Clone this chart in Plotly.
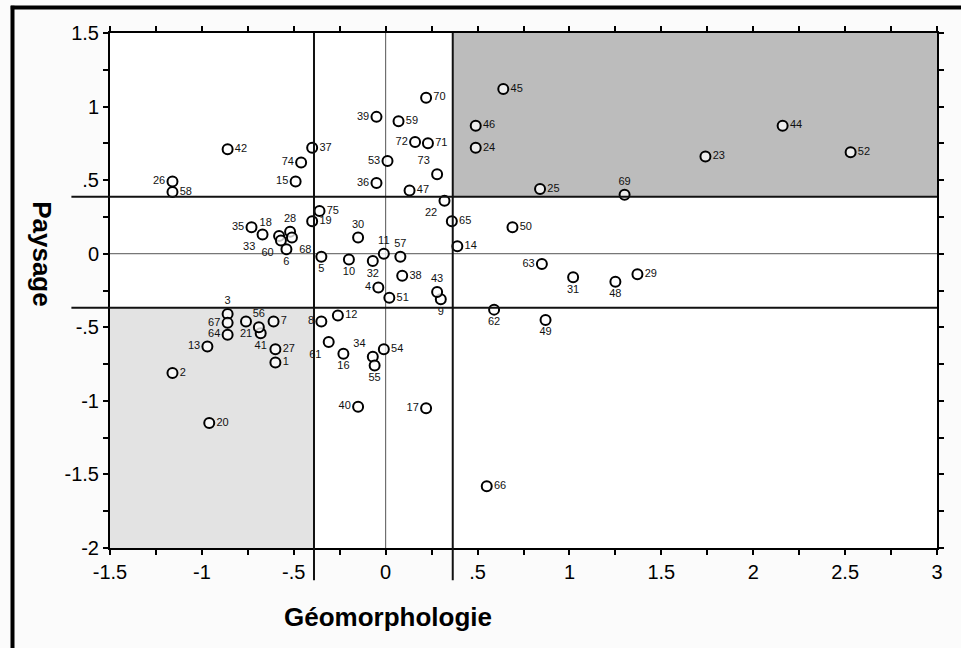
import plotly.graph_objects as go

# ---- data ----
ids = list(range(1, 76))
geo = [-0.60, -1.16, -0.86, -0.04, -0.35, -0.54, -0.61, -0.35, 0.30, -0.20,
       -0.01, -0.26, -0.97, 0.39, -0.49, -0.23, 0.22, -0.58, -0.40, -0.96,
       -0.76, 0.32, 1.74, 0.49, 0.84, -1.16, -0.60, -0.52, 1.37, -0.15,
       1.02, -0.07, -0.67, -0.07, -0.73, -0.05, -0.40, 0.09, -0.05, -0.15,
       -0.68, -0.86, 0.28, 2.16, 0.64, 0.49, 0.13, 1.25, 0.87, 0.69,
       0.02, 2.53, 0.01, -0.01, -0.06, -0.69, 0.08, -1.16, 0.07, -0.57,
       -0.31, 0.59, 0.85, -0.86, 0.36, 0.55, -0.86, -0.51, 1.30, 0.22,
       0.23, 0.16, 0.28, -0.46, -0.36]
pay = [-0.74, -0.81, -0.41, -0.23, -0.02, 0.03, -0.46, -0.46, -0.31, -0.04,
       0.00, -0.42, -0.63, 0.05, 0.49, -0.68, -1.05, 0.12, 0.22, -1.15,
       -0.46, 0.36, 0.66, 0.72, 0.44, 0.49, -0.65, 0.15, -0.14, 0.11,
       -0.16, -0.05, 0.13, -0.70, 0.18, 0.48, 0.72, -0.15, 0.93, -1.04,
       -0.54, 0.71, -0.26, 0.87, 1.12, 0.87, 0.43, -0.19, -0.45, 0.18,
       -0.30, 0.69, 0.63, -0.65, -0.76, -0.50, -0.02, 0.42, 0.90, 0.09,
       -0.60, -0.38, -0.07, -0.55, 0.22, -1.58, -0.47, 0.11, 0.40, 1.06,
       0.75, 0.76, 0.54, 0.62, 0.29]
label_pos = ["middle right", "middle right", "top center", "middle left", "bottom center",
             "bottom center", "middle right", "middle left", "bottom center", "bottom center",
             "top center", "middle right", "middle left", "middle right", "middle left",
             "bottom center", "middle left", "top left", "middle right", "middle right",
             "bottom center", "bottom left", "middle right", "middle right", "middle right",
             "middle left", "middle right", "top center", "middle right", "top center",
             "bottom center", "bottom center", "bottom left", "top left", "middle left",
             "middle left", "middle right", "middle right", "middle left", "middle left",
             "bottom center", "middle right", "top center", "middle right", "middle right",
             "middle right", "middle right", "bottom center", "bottom center", "middle right",
             "middle right", "middle right", "middle left", "middle right", "bottom center",
             "top center", "top center", "middle right", "middle right", "bottom left",
             "bottom left", "bottom center", "middle left", "middle left", "middle right",
             "middle right", "middle left", "bottom right", "top center", "middle right",
             "middle right", "middle left", "top left", "middle left", "middle right"]

x_range = [-1.5, 3.0]
y_range = [-2.0, 1.5]
x_tickvals = [-1.5, -1.0, -0.5, 0.0, 0.5, 1.0, 1.5, 2.0, 2.5, 3.0]
x_ticktext = ["-1.5", "-1", "-.5", "0", ".5", "1", "1.5", "2", "2.5", "3"]
y_tickvals = [-2.0, -1.5, -1.0, -0.5, 0.0, 0.5, 1.0, 1.5]
y_ticktext = ["-2", "-1.5", "-1", "-.5", "0", ".5", "1", "1.5"]

# class thresholds (thick reference lines)
geo_low, geo_high = -0.39, 0.365
pay_low, pay_high = -0.367, 0.387

def minor(vals, text, lo, hi):
    tv, tt = [], []
    v = lo
    while v <= hi + 1e-9:
        tv.append(round(v, 2))
        match = [t for val, t in zip(vals, text) if abs(val - v) < 1e-9]
        tt.append(match[0] if match else "")
        v += 0.25
    return tv, tt

xtv, xtt = minor(x_tickvals, x_ticktext, x_range[0], x_range[1])
ytv, ytt = minor(y_tickvals, y_ticktext, y_range[0], y_range[1])

def xp(v):
    return (v - x_range[0]) / (x_range[1] - x_range[0])

def yp(v):
    return (v - y_range[0]) / (y_range[1] - y_range[0])

FONT = "Arial, 'Liberation Sans', Helvetica, sans-serif"

fig = go.Figure()
fig.add_trace(go.Scatter(
    x=geo, y=pay, text=[str(i) for i in ids], textposition=label_pos,
    mode="markers+text", cliponaxis=False,
    marker=dict(symbol="circle", size=10, color="rgba(255,255,255,0.75)",
                line=dict(color="black", width=2)),
    textfont=dict(family=FONT, size=11, color="#111"),
    showlegend=False, hoverinfo="skip"))

shapes = [
    # shaded quadrants
    dict(type="rect", xref="x", yref="y", x0=geo_high, x1=x_range[1], y0=pay_high, y1=y_range[1],
         fillcolor="#bcbcbc", line=dict(width=0), layer="below"),
    dict(type="rect", xref="x", yref="y", x0=x_range[0], x1=geo_low, y0=y_range[0], y1=pay_low,
         fillcolor="#e3e3e3", line=dict(width=0), layer="below"),
    # thin zero lines
    dict(type="line", xref="x", yref="y", x0=0, x1=0, y0=y_range[0], y1=y_range[1],
         line=dict(color="#555", width=1), layer="below"),
    dict(type="line", xref="x", yref="y", x0=x_range[0], x1=x_range[1], y0=0, y1=0,
         line=dict(color="#555", width=1), layer="below"),
    # thick threshold lines (extend beyond the frame)
    dict(type="line", xref="paper", yref="paper", x0=xp(geo_low), x1=xp(geo_low),
         y0=yp(-2.22), y1=1, line=dict(color="#111", width=2)),
    dict(type="line", xref="paper", yref="paper", x0=xp(geo_high), x1=xp(geo_high),
         y0=yp(-2.22), y1=1, line=dict(color="#111", width=2)),
    dict(type="line", xref="paper", yref="paper", x0=xp(-1.71), x1=1,
         y0=yp(pay_high), y1=yp(pay_high), line=dict(color="#111", width=2)),
    dict(type="line", xref="paper", yref="paper", x0=xp(-1.71), x1=1,
         y0=yp(pay_low), y1=yp(pay_low), line=dict(color="#111", width=2)),
    # scan frame (top and left black border)
    dict(type="line", xref="paper", yref="paper", x0=-0.12, x1=1.1, y0=1.0495, y1=1.0495,
         line=dict(color="black", width=4)),
    dict(type="line", xref="paper", yref="paper", x0=-0.1179, x1=-0.1179, y0=1.053, y1=-0.2,
         line=dict(color="black", width=4)),
]

axis_common = dict(showgrid=False, zeroline=False, showline=True, linecolor="black",
                   linewidth=2, mirror="ticks", ticks="outside", ticklen=5, tickwidth=1.5,
                   tickcolor="black", tickfont=dict(family=FONT, size=20, color="black"))

fig.update_layout(
    width=961, height=648,
    margin=dict(l=110, r=24, t=33, b=100),
    paper_bgcolor="#fbfbfb", plot_bgcolor="#ffffff",
    xaxis=dict(range=x_range, tickmode="array", tickvals=xtv, ticktext=xtt, **axis_common),
    yaxis=dict(range=y_range, tickmode="array", tickvals=ytv, ticktext=ytt, **axis_common),
    shapes=shapes,
    annotations=[
        dict(text="<b>Géomorphologie</b>", xref="x", yref="paper", x=0.01, y=-0.134,
             showarrow=False, xanchor="center", yanchor="middle",
             font=dict(family=FONT, size=26, color="black")),
        dict(text="<b>Paysage</b>", xref="paper", yref="y", x=-0.0816, y=0.0,
             showarrow=False, xanchor="center", yanchor="middle", textangle=90,
             font=dict(family=FONT, size=26, color="black")),
    ],
)

fig.write_html("out.html", config={"displayModeBar": False},
               post_script="document.body.style.margin='0';document.body.style.overflow='hidden';")
